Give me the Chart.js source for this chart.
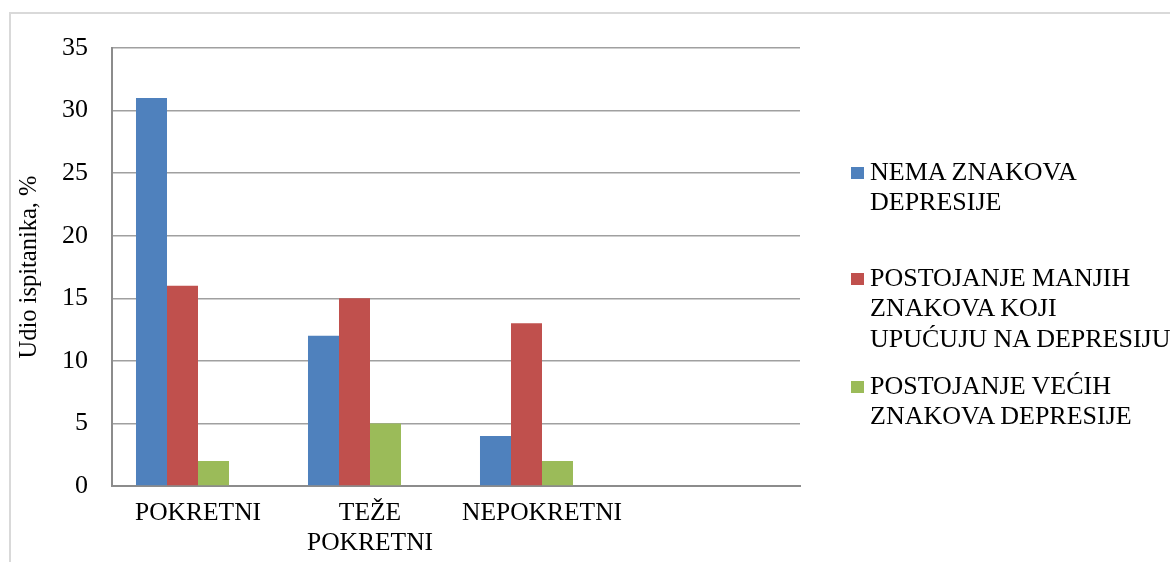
<!DOCTYPE html>
<html>
<head>
<meta charset="utf-8">
<script src="https://cdn.jsdelivr.net/npm/chart.js@4"></script>
<style>
  html, body { margin: 0; padding: 0; background: #fff; }
  #wrap { position: relative; width: 1170px; height: 562px; overflow: hidden; }
  #frame { position: absolute; left: 9px; top: 12px; width: 1200px; height: 600px; border: 2px solid #d9d9d9; box-sizing: border-box; }
  #cv { position: absolute; left: 0; top: 0; }
  .leg { position: absolute; left: 851px; font-family: "Liberation Serif", "Times New Roman", serif; font-size: 26px; line-height: 30.5px; color: #000; white-space: nowrap; }
  .leg .sw { position: absolute; left: 0; top: 10px; width: 13px; height: 12px; }
  .leg .tx { position: absolute; left: 19px; top: 0; }
</style>
</head>
<body>
<div id="wrap">
  <div id="frame"></div>
  <canvas id="cv" width="1170" height="562"></canvas>
  <div id="legend"></div>
</div>
<script>
const categories = ['POKRETNI', ['TEŽE', 'POKRETNI'], 'NEPOKRETNI', ''];
const seriesNames = [
  ['NEMA ZNAKOVA', 'DEPRESIJE'],
  ['POSTOJANJE MANJIH', 'ZNAKOVA KOJI', 'UPUĆUJU NA DEPRESIJU'],
  ['POSTOJANJE VEĆIH', 'ZNAKOVA DEPRESIJE']
];
const nemaZnakova = [31, 12, 4, null];
const manjiZnakovi = [16, 15, 13, null];
const veciZnakovi = [2, 5, 2, null];
const emptySeries = [null, null, null, null];
const seriesColors = ['#4F81BD', '#C0504D', '#9BBB59'];
const yTicks = [0, 5, 10, 15, 20, 25, 30, 35];
const yTitle = 'Udio ispitanika, %';

const serif = '"Liberation Serif", "Times New Roman", serif';
const seriesData = [nemaZnakova, manjiZnakovi, veciZnakovi];

const datasets = seriesData.map((d, i) => ({
  label: seriesNames[i].join(' '),
  data: d,
  backgroundColor: seriesColors[i],
  borderWidth: 0
}));
datasets.push({ label: '', data: emptySeries, backgroundColor: 'rgba(0,0,0,0)' });

new Chart(document.getElementById('cv'), {
  type: 'bar',
  data: { labels: categories, datasets },
  options: {
    responsive: false,
    animation: false,
    devicePixelRatio: 1,
    layout: { padding: { top: 48, right: 370, left: 0, bottom: 0 } },
    datasets: { bar: { categoryPercentage: 0.721, barPercentage: 1.0 } },
    plugins: { legend: { display: false }, tooltip: { enabled: false } },
    scales: {
      x: {
        grid: { display: false, drawTicks: false },
        border: { display: true, color: '#8c8c8c', width: 2 },
        ticks: {
          color: '#000', padding: 13, maxRotation: 0, autoSkip: false,
          font: { family: serif, size: 25.5, lineHeight: 1.15 }
        },
        afterFit: s => { s.height = 76; }
      },
      y: {
        min: 0, max: 35,
        afterBuildTicks: s => { s.ticks = yTicks.map(v => ({ value: v })); },
        grid: { color: '#a0a0a0', lineWidth: 1.5, drawTicks: false },
        border: { display: true, color: '#8c8c8c', width: 2 },
        ticks: {
          color: '#000', padding: 24,
          font: { family: serif, size: 26 }
        },
        title: {
          display: true, text: yTitle, color: '#000',
          font: { family: serif, size: 24.5 },
          padding: { top: 15, bottom: 0 }
        },
        afterFit: s => { s.width = 112; }
      }
    }
  }
});

const legTops = [156.75, 262.75, 370.75];
const legend = document.getElementById('legend');
seriesNames.forEach((lines, i) => {
  const el = document.createElement('div');
  el.className = 'leg';
  el.style.top = legTops[i] + 'px';
  const sw = document.createElement('div');
  sw.className = 'sw';
  sw.style.background = seriesColors[i];
  const tx = document.createElement('div');
  tx.className = 'tx';
  tx.innerHTML = lines.join('<br>');
  el.appendChild(sw);
  el.appendChild(tx);
  legend.appendChild(el);
});
</script>
</body>
</html>
